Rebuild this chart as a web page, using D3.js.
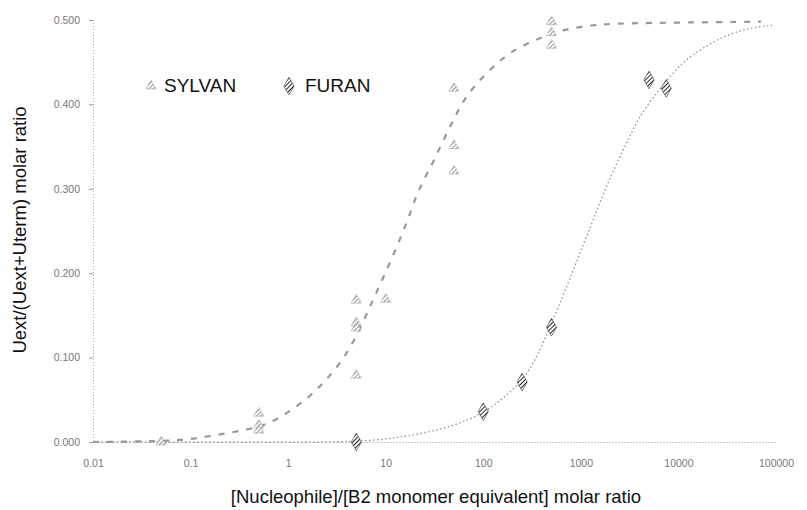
<!DOCTYPE html>
<html><head><meta charset="utf-8">
<script src="https://cdn.jsdelivr.net/npm/d3@7"></script>
<style>
html,body{margin:0;padding:0;background:#fff;}
svg text{font-family:"Liberation Sans",Arial,sans-serif;}
</style></head>
<body><svg id="c" width="807" height="510"></svg>
<script>
// ---- data ----
const xTicks = [0.01, 0.1, 1, 10, 100, 1000, 10000, 100000];
const xTickLabels = ["0.01","0.1","1","10","100","1000","10000","100000"];
const yTicks = [0, 0.1, 0.2, 0.3, 0.4, 0.5];
const yTickLabels = ["0.000","0.100","0.200","0.300","0.400","0.500"];
const seriesNames = ["SYLVAN","FURAN"];

const sylvanX = [0.05, 0.5, 0.5, 0.5, 5, 5, 5, 5, 10, 50, 50, 50, 500, 500, 500];
const sylvanY = [0.000, 0.034, 0.020, 0.014, 0.168, 0.141, 0.135, 0.079, 0.169, 0.419, 0.351, 0.321, 0.498, 0.485, 0.470];

const furanX = [5, 100, 250, 500, 5000, 7500];
const furanY = [0.000, 0.036, 0.071, 0.136, 0.429, 0.419];

// fitted curves
const sylvanFitX = [0.01,0.05,0.1,0.2,0.4,0.65,1,1.6,2.3,3.2,4.3,5.7,7,8.7,11,14.6,17.7,21,26,31,40,51,65,92,138,200,340,540,975,1640,2700,10000,70000];
const sylvanFitY = [0,0.001,0.003,0.009,0.015,0.022,0.035,0.052,0.070,0.089,0.111,0.139,0.162,0.186,0.212,0.245,0.270,0.295,0.316,0.333,0.360,0.385,0.408,0.429,0.449,0.464,0.476,0.486,0.492,0.495,0.496,0.497,0.498];

const furanFitX = [0.01,0.1,1,5,11,24,53,99,158,254,354,481,718,977,1300,1640,2080,2690,3410,4320,6010,7790,11090,15420,22500,36100,57800,92700];
const furanFitY = [0,0,0,0,0.004,0.010,0.020,0.034,0.051,0.073,0.100,0.136,0.184,0.224,0.259,0.290,0.318,0.345,0.370,0.392,0.414,0.430,0.450,0.462,0.474,0.485,0.491,0.494];

// ---- layout ----
const svg = d3.select("#c");
const x = d3.scaleLog().domain([0.01, 100000]).range([93, 776]);
const y = d3.scaleLinear().domain([0, 0.5]).range([442, 20]);

const defs = svg.append("defs");
function hatch(id, color, w){
  const p = defs.append("pattern").attr("id", id).attr("patternUnits","userSpaceOnUse")
    .attr("width", 3).attr("height", 3).attr("patternTransform","rotate(45)");
  p.append("rect").attr("width",3).attr("height",3).attr("fill","#fff");
  p.append("line").attr("x1",0).attr("y1",0).attr("x2",0).attr("y2",3)
    .attr("stroke", color).attr("stroke-width", w);
}
hatch("hs", "#777", 1.6);
hatch("hf", "#222", 2.0);

// axes
const yAxis = d3.axisLeft(y).tickValues(yTicks).tickFormat((d,i)=>yTickLabels[i]).tickSize(4).tickPadding(9);
const gy = svg.append("g").attr("transform","translate(93,0)").call(yAxis);
gy.select(".domain").attr("stroke","#aaa").attr("stroke-dasharray","1,2");
gy.selectAll(".tick line").attr("stroke","#999");
gy.selectAll(".tick text").attr("fill","#777").attr("font-size",10.5);

const xAxis = d3.axisBottom(x).tickValues(xTicks).tickFormat((d,i)=>xTickLabels[i]).tickSize(0).tickPadding(18);
const gx = svg.append("g").attr("transform","translate(0,442)").call(xAxis);
gx.select(".domain").attr("stroke","#999").attr("stroke-dasharray","1,2");
gx.selectAll(".tick text").attr("fill","#777").attr("font-size",10.5);

// titles
svg.append("text").attr("x", 436).attr("y", 503).attr("text-anchor","middle")
  .attr("font-size", 18.5).attr("fill","#111").text("[Nucleophile]/[B2 monomer equivalent] molar ratio");
svg.append("text").attr("transform","translate(26,230) rotate(-90)").attr("text-anchor","middle")
  .attr("font-size", 18.5).attr("fill","#111").text("Uext/(Uext+Uterm) molar ratio");

// curves
const line = d3.line().x(d=>x(d[0])).y(d=>y(d[1])).curve(d3.curveBasis);
svg.append("path").datum(furanFitX.map((v,i)=>[v,furanFitY[i]]))
  .attr("d", line).attr("fill","none").attr("stroke","#999").attr("stroke-width",1.4).attr("stroke-dasharray","1.5,2.5");
svg.append("path").datum(sylvanFitX.map((v,i)=>[v,sylvanFitY[i]]))
  .attr("d", line).attr("fill","none").attr("stroke","#999").attr("stroke-width",2.2).attr("stroke-dasharray","6,8");

// markers
const tri = d3.symbol().type(d3.symbolTriangle).size(45);
const dia = d3.symbol().type(d3.symbolDiamond).size(90);
svg.append("g").selectAll("path").data(sylvanX.map((v,i)=>[v,sylvanY[i]])).join("path")
  .attr("transform", d=>`translate(${x(d[0])},${y(d[1])})`).attr("d", tri)
  .attr("fill","url(#hs)").attr("stroke","#999").attr("stroke-width",0.5);
svg.append("g").selectAll("path").data(furanX.map((v,i)=>[v,furanY[i]])).join("path")
  .attr("transform", d=>`translate(${x(d[0])},${y(d[1])})`).attr("d", dia)
  .attr("fill","url(#hf)").attr("stroke","#333").attr("stroke-width",0.6);

// legend
const leg = svg.append("g");
leg.append("path").attr("transform","translate(151,86)").attr("d", tri).attr("fill","url(#hs)").attr("stroke","#999").attr("stroke-width",0.5);
leg.append("text").attr("x",164).attr("y",92).attr("font-size",19).attr("fill","#111").text(seriesNames[0]);
leg.append("path").attr("transform","translate(289,86)").attr("d", dia).attr("fill","url(#hf)").attr("stroke","#333").attr("stroke-width",0.6);
leg.append("text").attr("x",305).attr("y",92).attr("font-size",19).attr("fill","#111").text(seriesNames[1]);
</script>
</body></html>
